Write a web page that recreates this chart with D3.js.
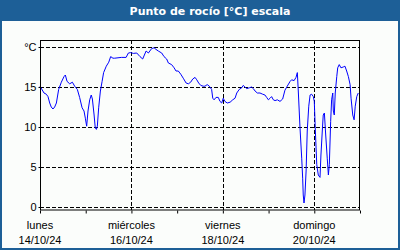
<!DOCTYPE html>
<html><head><meta charset="utf-8">
<script src="https://cdn.jsdelivr.net/npm/d3@7"></script>
<style>html,body{margin:0;padding:0;background:#fff;}svg{display:block;}</style>
</head><body>
<script>
const title = "Punto de rocío [°C] escala";
const startDate = new Date(2024, 9, 14);
const endDate = new Date(2024, 9, 21);
const dayNames = ["lunes", "miércoles", "viernes", "domingo"];
const dayDates = ["14/10/24", "16/10/24", "18/10/24", "20/10/24"];
const yTicks = [0, 5, 10, 15, 20];
const yTickLabels = ["0", "5", "10", "15", "°C"];
// hours since 14/10/24 00:00
const hours = [0, 2.1, 3.3, 4.2, 5.1, 5.9, 6.8, 7.7, 8.6, 9.8, 11.2, 12.6, 13.3, 14.2, 15.6, 17.0, 18.2, 19.6, 20.8, 22.1, 23.1, 23.8, 24.5, 25.2, 26.1, 26.9, 27.5, 28.4, 29.0, 29.6, 30.1, 30.8, 31.7, 32.6, 33.4, 34.8, 36.1, 37.1, 38.3, 39.2, 42.7, 45.2, 46.4, 47.6, 49.0, 50.8, 52.5, 53.9, 55.7, 56.9, 58.6, 59.9, 60.9, 62.1, 63.9, 65.1, 66.5, 67.4, 69.1, 70.4, 71.4, 72.6, 73.9, 75.2, 76.7, 77.9, 79.1, 80.2, 81.4, 82.3, 83.3, 84.4, 85.7, 86.6, 87.8, 88.9, 90.1, 90.7, 91.4, 92.4, 93.6, 94.5, 95.4, 96.2, 97.1, 98.3, 99.8, 101.2, 102.4, 103.3, 104.6, 105.9, 106.7, 107.6, 108.5, 109.9, 111.1, 112.0, 112.9, 114.1, 115.5, 116.9, 118.1, 119.0, 119.9, 120.8, 121.6, 122.5, 123.4, 124.6, 126.0, 127.4, 128.6, 129.8, 131.3, 132.1, 133.4, 134.4, 135.1, 135.6, 136.5, 137.4, 137.9, 138.2, 138.6, 139.1, 139.7, 140.3, 141.1, 141.8, 142.6, 143.5, 144.0, 144.5, 145.3, 146.1, 147.0, 147.5, 148.2, 148.7, 149.3, 150.0, 150.8, 151.4, 151.9, 152.6, 153.1, 153.7, 154.0, 154.5, 155.0, 155.8, 156.3, 157.1, 158.0, 159.2, 160.1, 161.0, 161.9, 162.8, 163.3, 164.2, 164.9, 165.5, 166.3, 167.1];
const dewPoint = [15.1, 14.25, 14.1, 13.8, 13.0, 12.5, 12.25, 12.5, 13.0, 14.7, 15.6, 16.3, 16.5, 15.7, 15.4, 15.6, 15.1, 14.7, 13.7, 12.4, 12.0, 11.1, 10.1, 12.0, 13.4, 14.0, 13.5, 11.5, 9.9, 9.7, 10.1, 12.4, 14.5, 15.7, 16.8, 17.6, 18.1, 18.8, 18.6, 18.6, 18.7, 18.7, 19.25, 19.3, 19.2, 19.25, 18.8, 18.5, 19.5, 19.25, 19.8, 19.9, 19.7, 19.5, 19.25, 18.8, 18.5, 18.0, 17.8, 17.4, 17.0, 17.0, 16.6, 16.1, 15.5, 15.4, 15.6, 16.0, 16.2, 15.9, 15.5, 15.2, 15.1, 15.1, 15.3, 15.1, 14.7, 13.6, 13.4, 13.7, 13.7, 13.2, 13.0, 13.6, 13.2, 13.0, 13.1, 13.4, 13.6, 14.25, 14.7, 14.9, 15.2, 15.0, 14.8, 14.9, 15.0, 14.8, 14.5, 14.25, 14.25, 14.1, 14.0, 13.7, 13.4, 13.6, 13.8, 13.4, 13.3, 13.4, 13.2, 13.5, 14.6, 15.1, 15.7, 15.9, 15.8, 16.2, 16.8, 14.5, 9.9, 6.1, 3.6, 1.5, 0.5, 1.5, 4.5, 9.5, 12.6, 14.0, 14.1, 13.8, 13.2, 9.9, 5.3, 4.0, 3.7, 6.5, 9.5, 11.5, 11.75, 9.0, 6.1, 4.0, 5.3, 10.7, 13.4, 14.25, 12.0, 11.5, 14.25, 16.3, 17.4, 17.8, 17.4, 17.5, 17.6, 17.0, 16.3, 15.3, 13.6, 11.5, 10.9, 12.6, 13.8, 14.25];

const W = 400, H = 250;
const svg = d3.select("body").append("svg").attr("width", W).attr("height", H);
svg.append("rect").attr("x", 0).attr("y", 0).attr("width", W).attr("height", H).attr("fill", "#1d5f97");
svg.append("rect").attr("x", 2).attr("y", 21).attr("width", W - 4).attr("height", H - 23).attr("fill", "#fbfdfb");
svg.append("text").attr("x", 210).attr("y", 15).attr("text-anchor", "middle")
  .attr("fill", "#fff").attr("font-family", "'DejaVu Sans', sans-serif").attr("font-weight", "bold")
  .attr("font-size", "11px").text(title);

const x = d3.scaleTime().domain([startDate, endDate]).range([40, 360]);
const y = d3.scaleLinear().domain([-0.375, 20.875]).range([210, 40]);

const data = hours.map((h, i) => ({ t: new Date(startDate.getTime() + h * 3600e3), v: dewPoint[i] }));

const g = svg.append("g");
// horizontal grid
g.selectAll(".hg").data(yTicks).enter().append("line")
  .attr("x1", 40).attr("x2", 360).attr("y1", d => Math.round(y(d)) + 0.5).attr("y2", d => Math.round(y(d)) + 0.5)
  .attr("stroke", "#000").attr("stroke-dasharray", "4,2");
// vertical grid at labelled days
const labelDays = d3.timeDay.range(startDate, endDate, 1).filter((d, i) => i % 2 === 0);
g.selectAll(".vg").data(labelDays.slice(1)).enter().append("line")
  .attr("y1", 40).attr("y2", 210).attr("x1", d => Math.round(x(d)) + 0.5).attr("x2", d => Math.round(x(d)) + 0.5)
  .attr("stroke", "#000").attr("stroke-dasharray", "4,2");

// line
const line = d3.line().x(d => x(d.t)).y(d => y(d.v));
g.append("path").datum(data).attr("d", line).attr("fill", "none").attr("stroke", "#0000ff").attr("stroke-width", 1);

// frame
g.append("rect").attr("x", 40.5).attr("y", 40.5).attr("width", 319).attr("height", 169.5)
  .attr("fill", "none").attr("stroke", "#000");

// x axis
const xAxis = d3.axisBottom(x).ticks(d3.timeDay.every(1)).tickSize(3).tickFormat("");
const xa = svg.append("g").attr("transform", "translate(0,210.5)").call(xAxis);
xa.select(".domain").remove();
xa.selectAll("line").attr("stroke", "#000");
const xl = svg.append("g").attr("font-family", "'Liberation Sans', Arial, sans-serif").attr("font-size", "11px").attr("fill", "#000");
labelDays.forEach((d, i) => {
  xl.append("text").attr("x", x(d)).attr("y", 229).attr("text-anchor", "middle").text(dayNames[i]);
  xl.append("text").attr("x", x(d)).attr("y", 244).attr("text-anchor", "middle").text(dayDates[i]);
});

// y axis
const yAxis = d3.axisLeft(y).tickValues(yTicks).tickSize(2).tickFormat((d, i) => yTickLabels[i]);
const ya = svg.append("g").attr("transform", "translate(40.5,0)").call(yAxis);
ya.select(".domain").remove();
ya.selectAll("line").attr("stroke", "#000");
ya.selectAll("text").attr("font-family", "'Liberation Sans', Arial, sans-serif").attr("font-size", "11px").attr("fill", "#000").attr("x", -4).attr("dy", "0.35em");
</script>
</body></html>
